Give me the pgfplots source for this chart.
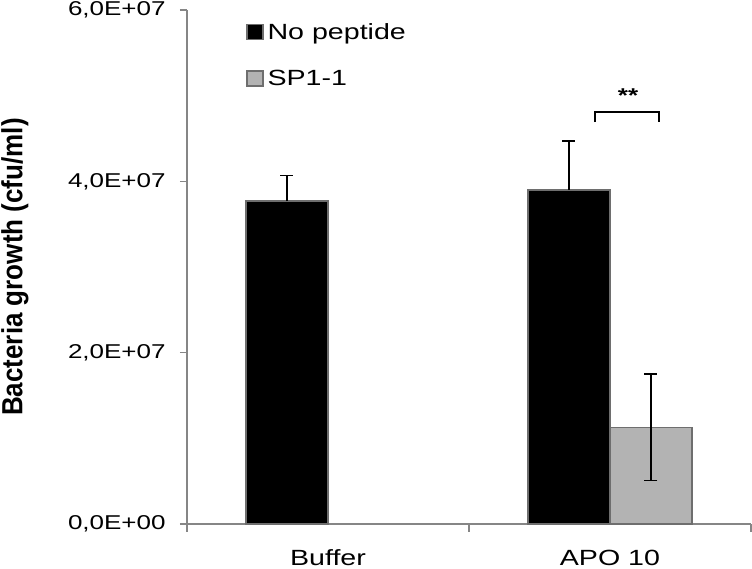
\documentclass[border=0pt]{standalone}
\usepackage{fontspec}
\setmainfont{Liberation Sans}[FakeStretch=1.3]
\newfontfamily\plainsans{Liberation Sans}
\usepackage{graphicx}
\usepackage{pgfplots}
\pgfplotsset{compat=1.18}
\definecolor{axgray}{RGB}{134,134,134}
\definecolor{bargray}{RGB}{179,179,179}
\definecolor{edgegray}{RGB}{110,110,110}
\begin{document}
\begin{tikzpicture}
\path[use as bounding box] (-93.5pt,-22.5pt) rectangle (282.5pt,262pt);
\begin{axis}[
 at={(0,0)}, anchor=south west,
 scale only axis, width=282pt, height=257pt,
 xmin=-0.5, xmax=1.5, ymin=0, ymax=6e7,
 axis lines*=left,
 axis line style={axgray, line width=0.75pt},
 ybar=0pt, bar width=41pt,
 xtick={0,1}, xticklabels={Buffer,APO 10},
 xtick style={draw=none},
 extra x ticks={-0.5,0.5,1.5}, extra x tick labels={},
 extra x tick style={xtick style={draw=axgray, line width=0.75pt}, major tick length=4pt},
 ytick={0,2e7,4e7,6e7},
 yticklabels={{0,0E+00},{2,0E+07},{4,0E+07},{6,0E+07}},
 scaled y ticks=false,
 ytick style={draw=axgray, line width=0.75pt},
 tick align=outside, major tick length=3.5pt,
 yticklabel style={font=\fontsize{10}{12}\selectfont, anchor=east, inner sep=0pt, xshift=-7pt},
 xticklabel style={font=\fontsize{11}{13}\selectfont, anchor=base, inner sep=0pt, yshift=-17.5pt},
 ylabel={\scalebox{1}[1.12]{Bacteria growth (cfu/ml)}},
 ylabel style={font=\plainsans\bfseries\fontsize{13}{16}\selectfont, at={(axis description cs:-0.305,0.5)}, anchor=center},
 legend style={at={(axis description cs:0.1046,1)}, anchor=north west, yshift=-6.5pt, draw=none, fill=none, inner sep=0pt, row sep=14pt, font=\fontsize{11}{13}\selectfont, nodes={inner sep=0pt, anchor=base west}},
 legend cell align=left,
 clip=false,
]
\addplot[fill=black, draw=edgegray, line width=0.6pt,
  legend image code/.code={\draw[fill=black, draw=edgegray, line width=0.6pt] (0pt,0pt) rectangle (8pt,7.5pt); \path (10pt,0pt);},
  error bars/.cd, y dir=plus, y explicit,
  error bar style={black, line width=0.8pt},
  error mark options={rotate=90, black, mark size=3.25pt, line width=0.8pt}]
  coordinates {(0,3.77e7) +- (0,0.30e7) (1,3.90e7) +- (0,0.57e7)};
\addlegendentry{No peptide}
\addplot[fill=bargray, draw=edgegray, line width=0.6pt,
  legend image code/.code={\draw[fill=bargray, draw=edgegray, line width=0.6pt] (0pt,0pt) rectangle (8pt,7.5pt); \path (10pt,0pt);},
  error bars/.cd, y dir=both, y explicit,
  error bar style={black, line width=0.8pt},
  error mark options={rotate=90, black, mark size=3.25pt, line width=0.8pt}]
  coordinates {(1,1.13e7) +- (0,0.62e7)};
\addlegendentry{SP1-1}
\draw[black, line width=0.9pt] (axis cs:0.947,4.69e7) -- (axis cs:0.947,4.81e7) -- (axis cs:1.174,4.81e7) -- (axis cs:1.174,4.69e7);
\node[font=\bfseries\fontsize{10}{12}\selectfont] at (axis cs:1.064,5.0e7) {**};
\end{axis}
\end{tikzpicture}
\end{document}
